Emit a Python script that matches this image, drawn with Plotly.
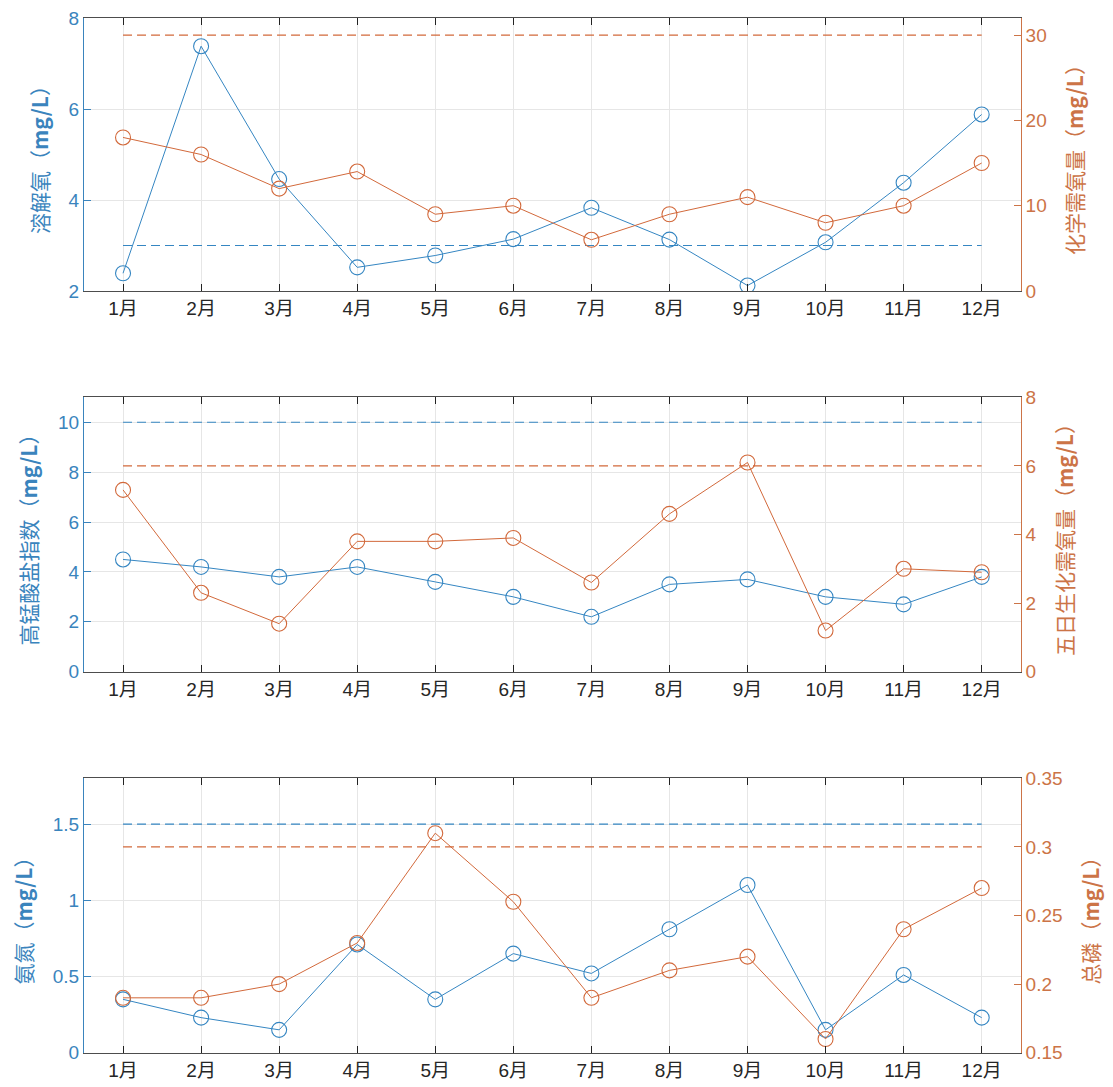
import plotly.graph_objects as go
from plotly.subplots import make_subplots

months = ["1月", "2月", "3月", "4月", "5月", "6月", "7月", "8月", "9月", "10月", "11月", "12月"]
x_pos = list(range(1, 13))

# Panel 1
do_vals = [2.39, 7.38, 4.46, 2.52, 2.78, 3.14, 3.83, 3.13, 2.12, 3.07, 4.38, 5.88]
cod_vals = [18, 16, 12, 14, 9, 10, 6, 9, 11, 8, 10, 15]
do_limit = 3
cod_limit = 30

# Panel 2
codmn_vals = [4.5, 4.2, 3.8, 4.2, 3.6, 3.0, 2.2, 3.5, 3.7, 3.0, 2.7, 3.8]
bod_vals = [5.3, 2.3, 1.4, 3.8, 3.8, 3.9, 2.6, 4.6, 6.1, 1.2, 3.0, 2.9]
codmn_limit = 10
bod_limit = 6

# Panel 3
nh3_vals = [0.35, 0.23, 0.15, 0.71, 0.35, 0.65, 0.52, 0.81, 1.10, 0.15, 0.51, 0.23]
tp_vals = [0.19, 0.19, 0.20, 0.23, 0.31, 0.26, 0.19, 0.21, 0.22, 0.16, 0.24, 0.27]
nh3_limit = 1.5
tp_limit = 0.3

left_titles = ["溶解氧（<b>mg/L</b>）", "高锰酸盐指数（<b>mg/L</b>）", "氨氮（<b>mg/L</b>）"]
right_titles = ["化学需氧量（<b>mg/L</b>）", "五日生化需氧量（<b>mg/L</b>）", "总磷（<b>mg/L</b>）"]

BLUE = "#3586C2"
ORANGE = "#D2693B"
BLUE_TXT = "#3A84BD"
ORANGE_TXT = "#CC7447"
AX_GRAY = "#4D4D4D"
FONT = "Liberation Sans, Noto Sans CJK SC, sans-serif"
CJK = "Noto Sans CJK SC, sans-serif"

fig = make_subplots(rows=3, cols=1, specs=[[{"secondary_y": True}]] * 3)

panels = [
    (do_vals, cod_vals, do_limit, cod_limit),
    (codmn_vals, bod_vals, codmn_limit, bod_limit),
    (nh3_vals, tp_vals, nh3_limit, tp_limit),
]

for i, (lv, rv, ll, rl) in enumerate(panels, start=1):
    fig.add_trace(go.Scatter(x=[1, 12], y=[ll, ll], mode="lines",
                             line=dict(color=BLUE, width=1.2, dash="9px,5px"),
                             showlegend=False, hoverinfo="skip"),
                  row=i, col=1, secondary_y=False)
    fig.add_trace(go.Scatter(x=x_pos, y=lv, mode="lines+markers",
                             line=dict(color=BLUE, width=1),
                             marker=dict(symbol="circle-open", size=15,
                                         color=BLUE, line=dict(width=1.1)),
                             showlegend=False),
                  row=i, col=1, secondary_y=False)
    fig.add_trace(go.Scatter(x=[1, 12], y=[rl, rl], mode="lines",
                             line=dict(color=ORANGE, width=1.2, dash="9px,5px"),
                             showlegend=False, hoverinfo="skip"),
                  row=i, col=1, secondary_y=True)
    fig.add_trace(go.Scatter(x=x_pos, y=rv, mode="lines+markers",
                             line=dict(color=ORANGE, width=1),
                             marker=dict(symbol="circle-open", size=15,
                                         color=ORANGE, line=dict(width=1.1)),
                             showlegend=False),
                  row=i, col=1, secondary_y=True)

W, H = 1113, 1087
xdom = [84 / W, 1020.7 / W]
ydoms = [
    [1 - 291 / H, 1 - 18 / H],
    [1 - 671.7 / H, 1 - 397.3 / H],
    [1 - 1052.7 / H, 1 - 778.3 / H],
]

left_ranges = [[2, 8], [0, 11], [0, 1.8]]
left_ticks = [[2, 4, 6, 8], [0, 2, 4, 6, 8, 10], [0, 0.5, 1, 1.5]]
left_ticktext = [["2", "4", "6", "8"], ["0", "2", "4", "6", "8", "10"], ["0", "0.5", "1", "1.5"]]
right_ranges = [[0, 32], [0, 8], [0.15, 0.35]]
right_ticks = [[0, 10, 20, 30], [0, 2, 4, 6, 8], [0.15, 0.2, 0.25, 0.3, 0.35]]
right_ticktext = [["0", "10", "20", "30"], ["0", "2", "4", "6", "8"], ["0.15", "0.2", "0.25", "0.3", "0.35"]]

layout = dict(
    template="none",
    width=W, height=H,
    margin=dict(l=0, r=0, t=0, b=0, pad=0),
    paper_bgcolor="white", plot_bgcolor="white",
    font=dict(family=FONT, size=18),
    showlegend=False,
)

for i in range(3):
    xname = "xaxis" if i == 0 else f"xaxis{i + 1}"
    yl = 2 * i + 1
    yr = 2 * i + 2
    ylname = "yaxis" if yl == 1 else f"yaxis{yl}"
    yrname = f"yaxis{yr}"
    layout[xname] = dict(
        domain=xdom, range=[0.5, 12.5], automargin=False,
        tickmode="array", tickvals=x_pos, ticktext=months,
        ticks="inside", ticklen=7, tickcolor="#222222", tickwidth=1,
        showline=True, linecolor=AX_GRAY, linewidth=1.2, mirror="ticks",
        showgrid=True, gridcolor="#E6E6E6", gridwidth=1,
        zeroline=False,
        tickfont=dict(family=FONT, size=19, color="#262626"),
        anchor=f"y{yl}" if yl > 1 else "y",
    )
    layout[ylname] = dict(
        domain=ydoms[i], range=left_ranges[i], automargin=False,
        tickmode="array", tickvals=left_ticks[i], ticktext=left_ticktext[i],
        ticks="inside", ticklen=7, tickcolor=BLUE_TXT,
        showline=True, linecolor=BLUE_TXT, linewidth=1.2,
        showgrid=True, gridcolor="#E6E6E6", gridwidth=1,
        zeroline=False,
        tickfont=dict(family=FONT, size=19, color=BLUE_TXT),
        title=dict(text=left_titles[i], standoff=14,
                   font=dict(family=CJK, size=21, color=BLUE_TXT)),
    )
    layout[yrname] = dict(
        domain=ydoms[i], range=right_ranges[i], side="right", automargin=False,
        overlaying="y" if yl == 1 else f"y{yl}",
        tickmode="array", tickvals=right_ticks[i], ticktext=right_ticktext[i],
        ticks="inside", ticklen=7, tickcolor=ORANGE_TXT,
        showline=True, linecolor=ORANGE_TXT, linewidth=1.2,
        showgrid=False, zeroline=False,
        tickfont=dict(family=FONT, size=19, color=ORANGE_TXT),
        title=dict(text=right_titles[i], standoff=22,
                   font=dict(family=CJK, size=21, color=ORANGE_TXT)),
    )

fig.update_layout(**layout)
fig.write_html("out.html", config={"displayModeBar": False},
               post_script="document.body.style.margin='0px';")
